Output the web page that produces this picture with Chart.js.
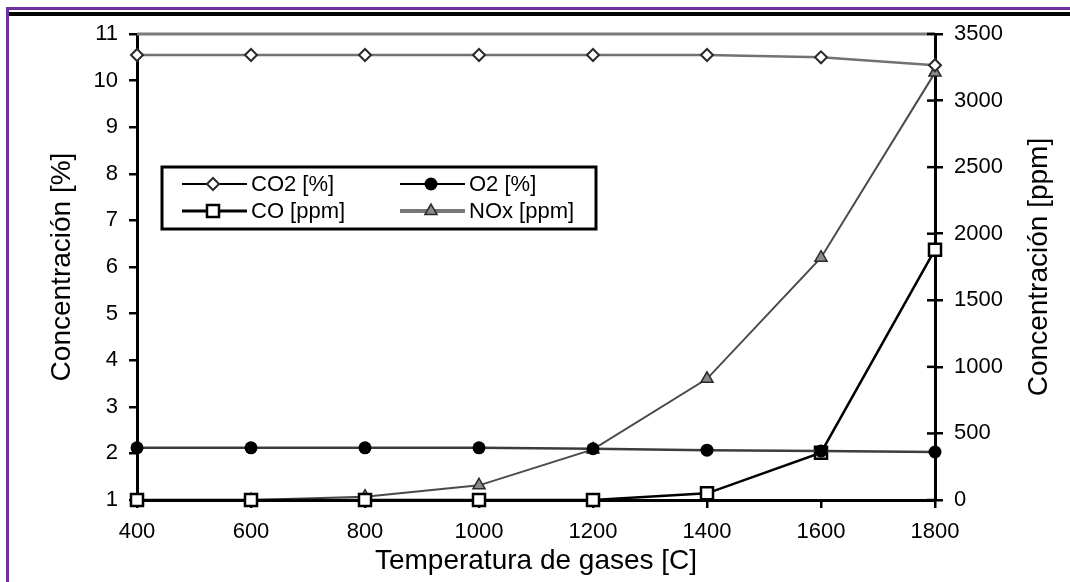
<!DOCTYPE html>
<html>
<head>
<meta charset="utf-8">
<title>Concentración vs temperatura de gases</title>
<script src="https://cdn.jsdelivr.net/npm/chart.js@4.4.1/dist/chart.umd.min.js"></script>
<style>
    body { margin: 0; background: #fff; }
    #wrap { position: relative; width: 1070px; height: 582px; overflow: hidden; background: #fff; }
    .purple-top { position: absolute; left: 6px; top: 7px; width: 1064px; height: 3px; background: #7030a0; }
    .purple-left { position: absolute; left: 6px; top: 7px; width: 3px; height: 575px; background: #7030a0; }
    .black-top { position: absolute; left: 9px; top: 12px; width: 1061px; height: 4px; background: #000; }
    canvas { position: absolute; left: 0; top: 0; }
</style>
</head>
<body>
<div id="wrap">
    <div class="purple-top"></div>
    <div class="purple-left"></div>
    <div class="black-top"></div>
    <canvas id="myChart" width="1070" height="582"></canvas>
</div>
<script>
// temperatures on the x axis
const temperatures = [400, 600, 800, 1000, 1200, 1400, 1600, 1800];
// left axis series (%)
const co2_percent = [10.55, 10.55, 10.55, 10.55, 10.55, 10.55, 10.5, 10.33];
const o2_percent = [2.12, 2.12, 2.12, 2.12, 2.1, 2.07, 2.05, 2.03];
// right axis series (ppm)
const co_ppm = [0, 0, 0, 0, 0, 50, 355, 1880];
const nox_ppm = [0, 0, 25, 110, 380, 910, 1820, 3210];
// names and tick labels
const series_labels = ['CO2 [%]', 'O2 [%]', 'CO [ppm]', 'NOx [ppm]'];
const x_ticks = [400, 600, 800, 1000, 1200, 1400, 1600, 1800];
const left_ticks = [1, 2, 3, 4, 5, 6, 7, 8, 9, 10, 11];
const right_ticks = [0, 500, 1000, 1500, 2000, 2500, 3000, 3500];
const x_title = 'Temperatura de gases [C]';
const left_title = 'Concentración [%]';
const right_title = 'Concentración [ppm]';

const FONT = "'Liberation Sans', Arial, sans-serif";
Chart.defaults.font.family = FONT;
Chart.defaults.color = '#000';

// turn a value list into {x, y} points
function points(values) {
    return temperatures.map(function(t, i) {
        return { x: t, y: values[i] };
    });
}

// plain numbers, no thousands separator
function plain(value) {
    return String(value);
}

// draw a marker the same way chart.js does
function marker(ctx, ds, x, y) {
    ctx.fillStyle = ds.pointBackgroundColor;
    ctx.strokeStyle = ds.pointBorderColor;
    ctx.lineWidth = ds.pointBorderWidth;
    Chart.helpers.drawPoint(ctx, {
        pointStyle: ds.pointStyle,
        radius: ds.pointRadius,
        rotation: 0,
        borderWidth: ds.pointBorderWidth
    }, x, y);
}

// legend box inside the plot, right axis title, top border line
const extras = {
    id: 'extras',
    beforeDatasetsDraw(chart) {
        const ctx = chart.ctx;
        const area = chart.chartArea;
        ctx.save();
        // grey line along the top of the plot
        ctx.strokeStyle = '#7a7a7a';
        ctx.lineWidth = 3;
        ctx.beginPath();
        ctx.moveTo(area.left, area.top);
        ctx.lineTo(area.right, area.top);
        ctx.stroke();
        // inner half of the right axis ticks
        const y2 = chart.scales.y2;
        ctx.strokeStyle = '#000';
        ctx.lineWidth = 2.5;
        for (let v of right_ticks) {
            const py = y2.getPixelForValue(v);
            ctx.beginPath();
            ctx.moveTo(area.right - 8, py);
            ctx.lineTo(area.right, py);
            ctx.stroke();
        }
        ctx.restore();
    },
    afterDraw(chart) {
        const ctx = chart.ctx;
        const area = chart.chartArea;
        ctx.save();
        // right axis title, read from bottom to top
        ctx.translate(chart.width - 31, (area.top + area.bottom) / 2);
        ctx.rotate(-Math.PI / 2);
        ctx.font = '28px ' + FONT;
        ctx.textAlign = 'center';
        ctx.textBaseline = 'middle';
        ctx.fillStyle = '#000';
        ctx.fillText(right_title, 0, 0);
        ctx.restore();

        // legend box
        const bx = area.left + 25;
        const by = area.top + 133;
        ctx.save();
        ctx.fillStyle = '#fff';
        ctx.fillRect(bx, by, 434, 62);
        ctx.strokeStyle = '#000';
        ctx.lineWidth = 3;
        ctx.strokeRect(bx, by, 434, 62);
        ctx.font = '22px ' + FONT;
        ctx.textBaseline = 'middle';
        ctx.textAlign = 'left';
        chart.data.datasets.forEach(function(ds, i) {
            const col = i % 2;
            const row = Math.floor(i / 2);
            const x0 = bx + 20 + col * 218;
            const yy = by + 17 + row * 27;
            ctx.strokeStyle = ds.legendLineColor;
            ctx.lineWidth = ds.legendLineWidth;
            ctx.beginPath();
            ctx.moveTo(x0, yy);
            ctx.lineTo(x0 + 65, yy);
            ctx.stroke();
            marker(ctx, ds, x0 + 31, yy);
            ctx.fillStyle = '#000';
            ctx.fillText(ds.label, x0 + 69, yy + 1);
        });
        ctx.restore();
    }
};

const dataset = {
    datasets: [
        {
            label: series_labels[0],
            data: points(co2_percent),
            yAxisID: 'y',
            borderColor: '#727272',
            borderWidth: 2.5,
            pointStyle: 'rectRot',
            pointRadius: 6,
            pointBorderWidth: 2,
            pointBackgroundColor: '#fff',
            pointBorderColor: '#2a2a2a',
            legendLineColor: '#000',
            legendLineWidth: 2
        },
        {
            label: series_labels[1],
            data: points(o2_percent),
            yAxisID: 'y',
            borderColor: '#3c3c3c',
            borderWidth: 2.5,
            pointStyle: 'circle',
            pointRadius: 6.5,
            pointBorderWidth: 0,
            pointBackgroundColor: '#000',
            pointBorderColor: '#000',
            legendLineColor: '#000',
            legendLineWidth: 2
        },
        {
            label: series_labels[2],
            data: points(co_ppm),
            yAxisID: 'y2',
            borderColor: '#000',
            borderWidth: 2.5,
            pointStyle: 'rect',
            pointRadius: 8.5,
            pointBorderWidth: 2.5,
            pointBackgroundColor: '#fff',
            pointBorderColor: '#000',
            legendLineColor: '#000',
            legendLineWidth: 3
        },
        {
            label: series_labels[3],
            data: points(nox_ppm),
            yAxisID: 'y2',
            borderColor: '#4a4a4a',
            borderWidth: 2,
            pointStyle: 'triangle',
            pointRadius: 7,
            pointBorderWidth: 1.5,
            pointBackgroundColor: '#8a8a8a',
            pointBorderColor: '#2a2a2a',
            legendLineColor: '#777',
            legendLineWidth: 4
        }
    ]
};

const config = {
    type: 'line',
    data: dataset,
    options: {
        responsive: false,
        animation: false,
        layout: { padding: { top: 34, left: 0, right: 0, bottom: 0 } },
        datasets: { line: { clip: false, tension: 0 } },
        plugins: {
            legend: { display: false },
            tooltip: { enabled: false }
        },
        scales: {
            x: {
                type: 'linear',
                min: 400,
                max: 1800,
                afterBuildTicks: function(scale) {
                    scale.ticks = x_ticks.map(v => ({ value: v }));
                },
                afterFit: function(scale) { scale.height = 82; },
                border: { display: true, color: '#000', width: 3 },
                grid: { drawOnChartArea: false, color: '#000', lineWidth: 2.5, tickLength: 8 },
                ticks: { font: { size: 22 }, padding: 11, maxRotation: 0, color: '#000', callback: plain },
                title: {
                    display: true,
                    text: x_title,
                    font: { size: 28 },
                    color: '#000',
                    padding: { top: 0, bottom: 4 }
                }
            },
            y: {
                type: 'linear',
                position: 'left',
                min: 1,
                max: 11,
                afterBuildTicks: function(scale) {
                    scale.ticks = left_ticks.map(v => ({ value: v }));
                },
                afterFit: function(scale) { scale.width = 137; },
                border: { display: true, color: '#000', width: 3 },
                grid: { drawOnChartArea: false, color: '#000', lineWidth: 2.5, tickLength: 8 },
                ticks: { font: { size: 22 }, padding: 11, color: '#000', callback: plain },
                title: {
                    display: true,
                    text: left_title,
                    font: { size: 28 },
                    color: '#000',
                    padding: { top: 45, bottom: 0 }
                }
            },
            y2: {
                type: 'linear',
                position: 'right',
                min: 0,
                max: 3500,
                afterBuildTicks: function(scale) {
                    scale.ticks = right_ticks.map(v => ({ value: v }));
                },
                afterFit: function(scale) { scale.width = 135; },
                border: { display: true, color: '#000', width: 3 },
                grid: { drawOnChartArea: false, color: '#000', lineWidth: 2.5, tickLength: 8 },
                ticks: { font: { size: 22 }, padding: 11, color: '#000', callback: plain }
            }
        }
    },
    plugins: [extras]
};

const myChart = new Chart(document.getElementById('myChart'), config);
</script>
</body>
</html>
